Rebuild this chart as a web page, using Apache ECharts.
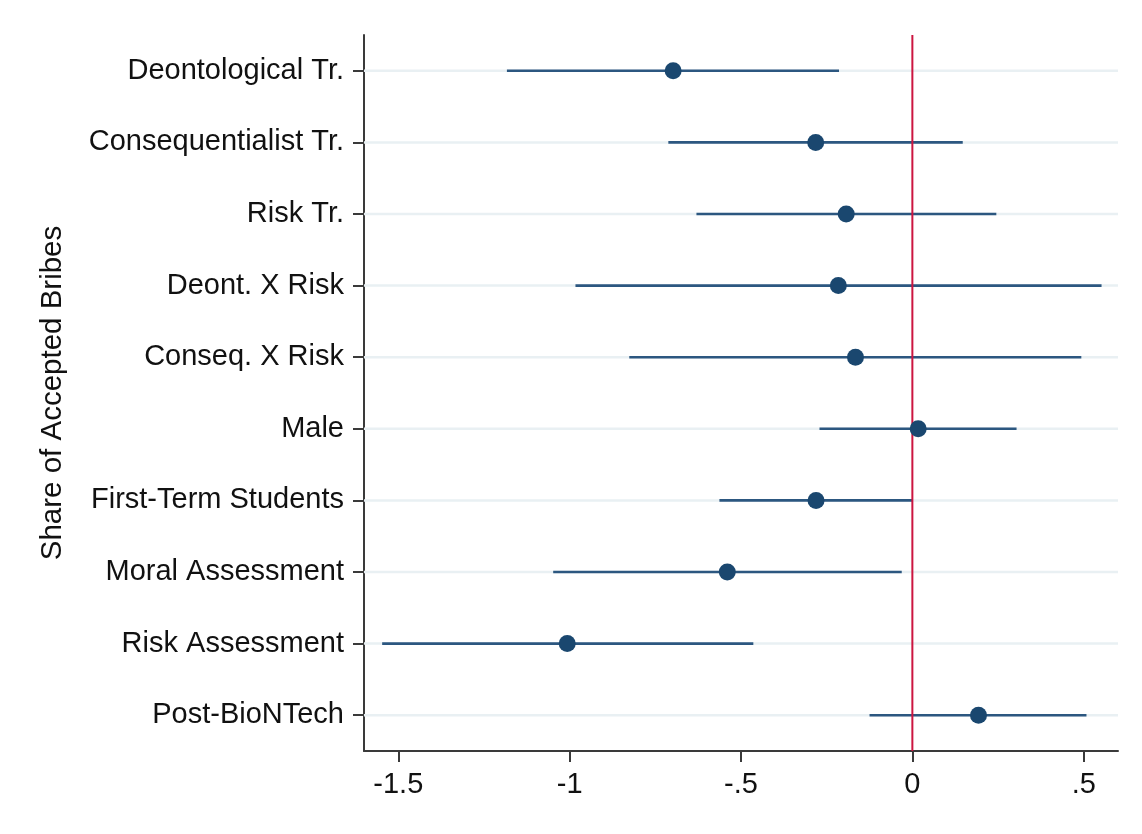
<!DOCTYPE html>
<html>
<head>
<meta charset="utf-8">
<script src="https://cdn.jsdelivr.net/npm/echarts@6/dist/echarts.min.js"></script>
<style>
html,body{margin:0;padding:0;background:#fff;}
#c{width:1142px;height:834px;}
</style>
</head>
<body>
<div id="c"></div>
<script>
const categories = ["Deontological Tr.", "Consequentialist Tr.", "Risk Tr.", "Deont. X Risk", "Conseq. X Risk", "Male", "First-Term Students", "Moral Assessment", "Risk Assessment", "Post-BioNTech"];
const estimates = [-0.698, -0.282, -0.193, -0.216, -0.166, 0.017, -0.281, -0.540, -1.007, 0.193];
const ciLower = [-1.183, -0.712, -0.630, -0.983, -0.826, -0.271, -0.563, -1.048, -1.547, -0.125];
const ciUpper = [-0.214, 0.147, 0.245, 0.552, 0.493, 0.304, 0.001, -0.031, -0.464, 0.508];
const refLine = [0];
const xTicks = [-1.5, -1, -0.5, 0, 0.5];
const xTickLabels = ["-1.5", "-1", "-.5", "0", ".5"];
const yTitle = "Share of Accepted Bribes";

const chart = echarts.init(document.getElementById('c'));
const font = 'Liberation Sans, Arial, sans-serif';
const navy = '#1a476f';

const ciData = categories.map((c, i) => [ciLower[i], ciUpper[i], c]);
const ptData = categories.map((c, i) => [estimates[i], c]);

chart.setOption({
  animation: false,
  backgroundColor: '#ffffff',
  grid: { left: 364, right: 24, top: 35, bottom: 83, containLabel: false },
  xAxis: {
    type: 'value', min: -1.6, max: 0.6,
    axisLine: { show: true, onZero: false, lineStyle: { color: '#3a3a3a', width: 2 } },
    axisTick: { show: true, customValues: xTicks, length: 11, lineStyle: { color: '#3a3a3a', width: 2 } },
    axisLabel: {
      customValues: xTicks, margin: 19, fontSize: 29, fontFamily: font, color: '#111',
      formatter: v => { const k = xTicks.findIndex(t => Math.abs(t - v) < 1e-9); return k >= 0 ? xTickLabels[k] : ''; }
    },
    splitLine: { show: false }
  },
  yAxis: {
    type: 'category', data: categories, inverse: true, boundaryGap: true,
    name: yTitle, nameLocation: 'middle', nameGap: 296, nameRotate: 90,
    nameTextStyle: { fontSize: 29.5, fontFamily: font, color: '#111' },
    axisLine: { show: true, onZero: false, lineStyle: { color: '#3a3a3a', width: 2 } },
    axisTick: { show: true, alignWithLabel: true, length: 11, lineStyle: { color: '#3a3a3a', width: 2 } },
    axisLabel: { margin: 20, fontSize: 29, fontFamily: font, color: '#111', padding: [4, 0, 0, 0] },
    splitLine: { show: false }
  },
  series: [
    {
      type: 'custom', z: 2, silent: true,
      renderItem: (params, api) => {
        const cs = params.coordSys;
        const p1 = api.coord([api.value(0), api.value(2)]);
        const p2 = api.coord([api.value(1), api.value(2)]);
        return {
          type: 'group',
          children: [
            { type: 'line', z2: 0, shape: { x1: cs.x, y1: p1[1], x2: cs.x + cs.width, y2: p1[1] }, style: { stroke: '#e9f0f3', lineWidth: 2.5 } },
            { type: 'line', z2: 1, shape: { x1: p1[0], y1: p1[1], x2: p2[0], y2: p2[1] }, style: { stroke: '#2c5780', lineWidth: 2.6 } }
          ]
        };
      },
      encode: { x: [0, 1], y: 2 },
      data: ciData
    },
    {
      type: 'custom', z: 3, silent: true,
      renderItem: (params, api) => {
        const cs = params.coordSys;
        const x = api.coord([api.value(0), 0])[0];
        return { type: 'line', shape: { x1: x, y1: cs.y, x2: x, y2: cs.y + cs.height }, style: { stroke: '#cc1540', lineWidth: 2 } };
      },
      encode: { x: 0 },
      data: refLine.map(v => [v])
    },
    {
      type: 'scatter', z: 4, symbol: 'circle', symbolSize: 17,
      itemStyle: { color: navy, opacity: 1 },
      data: ptData
    }
  ]
});
</script>
</body>
</html>
